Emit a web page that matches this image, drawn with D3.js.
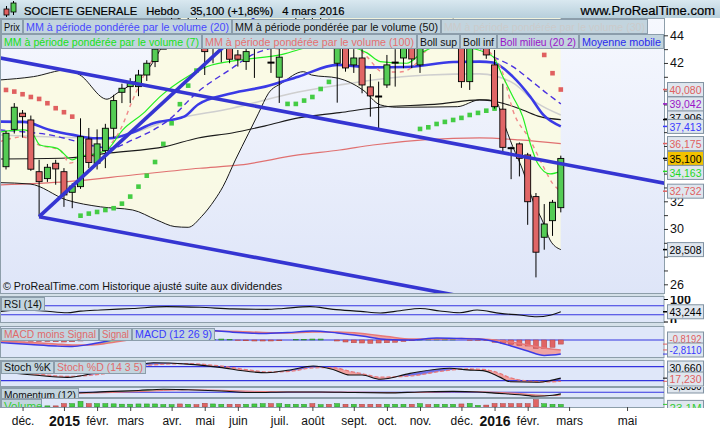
<!DOCTYPE html>
<html><head><meta charset="utf-8">
<script src="https://cdn.jsdelivr.net/npm/d3@7"></script>
<style>
body{margin:0;background:#fff}
svg{display:block;font-family:"Liberation Sans",Arial,sans-serif}
</style></head>
<body><svg id="c" width="720" height="430"></svg>
<script>
// ---------------- DATA (weekly, index 0 = week of 17 Nov 2014) ----------------
const opens  = [34.5,37.2,38.37,37.88,34.14,33.64,34.75,34.14,32.65,33.06,36.5,34.75,35.66,37.28,39.88,40.29,40.29,41.13,42.1,43.0,44.3,45.0,44.2,44.9,43.8,43.3,43.5,43.4,42.58,42.1,43.2,43.5,42.05,40.97,43.1,44.3,44.8,45.0,44.5,44.9,41.98,43.6,41.86,42.36,40.27,39.6,40.41,42.0,42.36,43.3,41.86,43.6,44.0,43.9,43.9,43.5,40.65,43.2,43.4,41.86,38.66,35.86,36.15,35.35,32.34,29.4,30.6,31.54];
const highs  = [37.1,39.1,38.6,38.2,35.0,34.7,35.0,34.4,33.3,38.0,37.3,37.2,37.6,39.7,40.5,40.9,41.5,42.2,43.2,44.6,45.6,45.8,45.5,45.9,45.0,44.5,44.6,44.0,42.94,43.4,44.3,44.8,43.3,43.3,44.8,45.4,45.8,45.6,45.5,45.2,43.8,44.2,43.0,43.2,41.2,40.65,42.58,43.0,43.8,43.8,43.9,44.5,45.0,45.0,45.2,44.2,43.8,44.0,43.9,42.94,40.5,35.95,36.25,35.5,32.6,31.8,32.1,35.3];
const lows   = [34.3,36.9,36.6,34.2,30.89,33.4,33.2,31.6,31.5,32.9,34.4,34.3,34.4,36.6,39.1,39.1,39.6,40.7,41.7,43.1,43.8,43.6,43.5,43.8,41.13,41.98,42.05,41.98,41.74,41.5,40.92,43.0,41.28,39.11,43.1,43.8,44.0,43.9,43.7,43.3,39.13,41.37,41.28,39.81,38.12,37.16,40.2,40.29,41.62,41.62,41.28,43.1,43.3,43.3,43.4,40.2,40.05,43.0,42.3,38.7,35.6,33.6,33.8,30.3,26.5,28.5,29.5,31.2];
const closes = [36.92,38.8,38.12,34.32,33.42,34.46,34.34,32.46,33.1,36.67,34.8,36.15,37.28,39.28,40.17,40.63,41.13,41.98,43.0,44.2,45.0,44.3,44.9,44.0,42.82,43.9,43.9,42.27,42.27,42.82,43.6,44.1,42.0,42.42,44.3,44.8,45.1,44.5,44.9,43.6,43.3,41.64,42.36,40.41,39.62,39.55,41.86,42.05,43.3,42.29,43.2,43.2,44.5,44.4,44.3,40.65,43.2,43.5,42.58,38.84,35.9,35.82,35.11,31.97,28.32,30.36,31.93,35.1];
const volumes = [30,32,30,35,40,10,10,30,30,50,30,30,30,28,25,25,27,27,27,22,21,27,24,21,33,27,24,24,24,24,27,30,30,30,24,24,24,30,21,24,30,24,24,24,24,24,24,24,24,24,30,22,24,24,24,27,32,15,17,31,30,30,30,30,65,29,24,23.1];
const macdHist = [-0.15,-0.2,-0.2,-0.25,-0.3,-0.3,-0.35,-0.4,-0.35,-0.2,0.05,0.2,0.3,0.35,0.4,0.4,0.4,0.35,0.3,0.25,0.2,0.15,0.1,0.05,0.05,0.15,0.2,0.15,-0.1,-0.15,-0.2,-0.2,-0.2,-0.15,0.0,0.1,0.15,0.2,0.2,0.0,-0.2,-0.4,-0.55,-0.6,-0.65,-0.6,-0.55,-0.45,-0.3,-0.15,0.05,0.15,0.2,0.15,0.05,0.0,-0.05,-0.05,-0.1,-0.45,-0.65,-0.85,-1.05,-1.2,-1.65,-1.65,-1.45,-0.8192];

// indicator lines: [week index, value]
const mm20 = [[-0.8,37.76],[2.1,37.74],[5.3,37.16],[8.1,36.8],[10.5,36.56],[12.6,36.56],[15,36.92],[17.8,37.64],[21.5,38.12],[23.2,39.0],[27.3,39.81],[31.3,40.29],[35.3,41.01],[40,41.86],[44.3,41.68],[48.4,41.71],[54,42.07],[57.2,42.1],[58.8,42.03],[61.2,41.01],[63.3,39.57],[64.9,38.24],[67,37.413]];
const mm50 = [[-0.8,35.06],[7.4,35.13],[12.6,35.5],[19.2,35.95],[23.2,36.58],[27.3,36.94],[31.3,37.45],[35.3,38.03],[40.3,38.41],[44.3,38.75],[52.4,39.04],[57.2,39.33],[60,39.09],[62.4,38.6],[64.5,38.12],[67,37.906]];
const mm30 = [[-0.8,36.8],[11.4,36.58],[15.3,36.94],[19.2,37.76],[27.3,38.73],[35.3,39.9],[40.3,40.41],[44.3,40.77],[51,41.13],[57.2,41.21],[61.2,40.56],[64.1,39.11],[67,38.24]];
const mm7 = [[-0.8,37.0],[2.1,37.16],[3.3,36.8],[4.1,36.07],[6.2,35.83],[8,34.99],[8.9,35.23],[11,35.47],[12.2,35.71],[14.1,37.16],[16.6,38.37],[18.6,39.57],[21.9,41.01],[24.3,41.74],[28.3,42.22],[33.1,42.58],[36.3,43.1],[40,43.3],[43.6,42.73],[45.2,42.1],[48.4,41.98],[50.4,42.82],[53,43.3],[56,43.1],[58.8,42.46],[60,41.01],[61.2,39.57],[62.4,38.12],[63.3,36.2],[64.2,34.75],[65.7,33.98],[67,34.163]];
const mm100 = [[-0.8,33.18],[7.4,33.42],[15.3,33.9],[23.4,34.39],[28.3,34.63],[35.3,35.35],[40.3,35.71],[44.3,36.07],[57.2,36.58],[62,36.44],[67,36.175]];
const bollUp = [[-0.8,40.77],[3.3,41.01],[7.4,41.5],[8.9,41.14],[12.2,39.38],[13.4,39.81],[15.3,40.54],[17.4,41.74],[18.6,42.94],[20,44.5],[22,46],[26,47],[32,46.8],[38,46.5],[42,46.5],[46,46.5],[52,45.8],[56,46],[60,47.5],[64,50],[67,49.6]];
const bollLow = [[-0.8,33.35],[2.9,33.25],[7.3,32.1],[11.4,31.6],[15.3,31.37],[18.2,30.65],[20.4,30.17],[22,30.12],[23.6,30.89],[25.2,32.1],[26.2,33.06],[27.7,34.99],[29.3,36.92],[30.5,38.37],[31.7,39.81],[33.3,40.54],[35.9,41.37],[36.9,41.13],[40.1,40.9],[43.1,40.05],[45.2,38.97],[47.2,38.8],[54.5,38.84],[57.2,39.33],[58.1,39.33],[59.3,39.11],[60,37.88],[61.2,35.95],[62.4,34.27],[63.6,32.1],[64.9,30.43],[65.7,29.2],[67,28.508]];
const bollMid = [[-0.8,37.16],[1.7,37.04],[5.3,36.8],[9.3,36.2],[11,35.95],[12.6,35.83],[15.3,36.44],[17.8,37.16],[19.4,37.76],[23.2,39.93],[27.3,41.62],[29.7,42.58],[31.3,42.94],[35,43.4],[40,43.6],[46,43.5],[52,43.4],[57,43.1],[58.8,42.46],[61.2,41.74],[63.3,40.77],[65.3,39.81],[67,39.042]];
const pinkMA = [[-0.8,36.3],[2,36.65],[4,36.07],[6.5,35.71],[7.7,34.77],[8.9,34.99],[11.4,35.5],[13.8,37.16],[15.3,39.33],[17,41.5],[18.2,42.73],[20,43.5],[26,43.6],[30,43.2],[34,43.0],[38,43.2],[42,43.3],[43.6,42.44],[45.5,41.35],[47.6,41.35],[49.6,42.0],[50.8,42.94],[53,43.6],[57,43.4],[58.1,42.94],[60,41.26],[61.2,38.6],[63.3,36.44],[64.9,34.5],[66,33.3],[67,32.732]];
const sarIdx = [0,1,2,3,4,5,6,7,8,9,10,11,12,13,14,15,16,17,18,19,20,21,22,23,34,35,36,37,38,39,50,51,52,53,54,55,56,57,58,59,65,66,67];
const sarVal = [40.05,39.93,39.74,39.54,39.4,39.09,38.73,38.44,38.12,30.96,31.11,31.23,31.37,31.5,31.83,32.34,33.06,33.85,34.84,36.15,37.64,39.02,40.36,41.45,39.04,39.04,39.28,39.54,40.12,40.63,37.23,37.35,37.59,37.74,37.88,38.03,38.24,38.39,38.55,38.7,42.58,41.26,40.08];
// drawn trend lines: [index, price] pairs
const trendRise = [[4,30.89],[30,45.22]];
const trendTop  = [[-0.8,42.37],[80,33.25]];
const trendLow  = [[4,30.89],[60,24.57]];

const rsiIdx = [-0.8,2,4.5,7.4,9,11.4,15.3,19.4,23.4,27.4,31.5,33.5,36.7,39.5,42.8,45.2,47.6,50,52.4,54.8,56.9,59.7,62,64.1,65.7,67];
const rsiVal = [44,51,47,39,46,51,58,66,63,56,54,58,66,54,45,38,48,58,47,39,51,36,29,21,28,43.244];
const macdIdx = [-0.8,3,6,8,10,12,14,16,19,22,25,28,31,34,37,40,43,46,49,52,55,57,59,61,63,65,67];
const macdVal = [-0.5,-0.9,-1.2,-1.3,-0.9,-0.3,0.4,1.0,1.7,2.1,1.9,1.5,1.3,1.5,1.8,1.4,0.8,0.1,0.0,0.4,0.3,0.2,-0.3,-1.2,-2.2,-3.1,-2.811];
const macdSig = [-0.2,-0.5,-0.8,-1.0,-1.0,-0.7,-0.2,0.4,1.1,1.6,1.8,1.7,1.5,1.4,1.6,1.6,1.3,0.7,0.2,0.2,0.3,0.25,0.0,-0.4,-1.0,-1.6,-1.99];
const stIdx = [-0.8,3.3,7.4,11.4,15.3,17.8,21.9,25.8,29.5,31.5,34.3,37.1,39.5,41.5,43,45.2,48.8,53.6,55.7,57.6,59.7,60.9,64.1,65.7,67];
const stK = [58,44,34,58,83,97,91,77,58,54,66,83,68,44,44,26,51,73,66,63,34,15,13,20,30.66];
const stD = [60,50,38,48,72,88,93,83,65,57,60,75,76,60,50,35,40,65,70,68,50,32,16,15,17.23];
const momIdx = [-0.8,4,8,12,16,19,22,26,30,34,38,42,46,50,54,57,59,62,64,66,67];
const momVal = [-1,-4,-3,2,6,10,8,4,-1,1,1,-1,-2,1,3,1,-3,-8,-13,-10,-5.303];
const momSig = [0,-2,-3.5,-1.5,2,6,8,6.5,3,1,0.5,0.5,-1,-0.5,1.5,1.5,0,-4,-9,-11,-9];

const monthIdx = [2,7,11,15,20,24,28,33,37,42,46,50,55,59,63,68,75];
const monthLabels = ["déc.","2015","févr.","mars","avr.","mai","juin","juil.","août","sept.","oct.","nov.","déc.","2016","févr.","mars","mai"];
const priceTicks = d3.range(26,45,1);

// last-value labels on the price axis
const lastVals  = [40.080, 39.042, 37.413, 36.175, 35.100, 34.163, 32.732, 28.508];
const lastColor = ["#e06060","#9a12c8","#3a3aff","#e06060","#000","#1fd81f","#e06060","#000"];
const hiddenVal = 37.906;

// ---------------- LAYOUT ----------------
const svg = d3.select("#c");
const PL=0, PR=664, PT=18, PB=293;
const x = d3.scaleLinear().domain([0,67]).range([6,560.8]);
const y = d3.scaleLinear().domain([26,44]).range([284.3,35.3]);
const fmt = (v,d)=>d3.format("."+d+"f")(v).replace(".",",").replace("−","-");

const defs = svg.append("defs");
const g1 = defs.append("linearGradient").attr("id","bg").attr("x1",0).attr("y1",0).attr("x2",0).attr("y2",1);
g1.append("stop").attr("offset","0%").attr("stop-color","#f6f8fe");
g1.append("stop").attr("offset","100%").attr("stop-color","#dee5f8");
const g2 = defs.append("linearGradient").attr("id","tb").attr("x1",0).attr("y1",0).attr("x2",0).attr("y2",1);
g2.append("stop").attr("offset","0%").attr("stop-color","#d9e8f0");
g2.append("stop").attr("offset","100%").attr("stop-color","#b7cfdb");
defs.append("clipPath").attr("id","mainClip").append("rect").attr("x",PL+1).attr("y",PT).attr("width",PR-PL-1).attr("height",PB-PT);

// page background
svg.append("rect").attr("width",720).attr("height",430).attr("fill","#d4e0e8");
svg.append("rect").attr("x",0).attr("y",0).attr("width",720).attr("height",18).attr("fill","url(#tb)");
svg.append("rect").attr("x",664).attr("y",18).attr("width",56).attr("height",390).attr("fill","#fff");
svg.append("rect").attr("x",0).attr("y",407).attr("width",720).attr("height",23).attr("fill","#fff");
svg.append("rect").attr("x",PL+0.5).attr("y",PT+0.5).attr("width",PR-PL).attr("height",PB-PT).attr("fill","url(#bg)").attr("stroke","#8d9eaa");

// title
const icon = svg.append("g");
icon.append("line").attr("x1",6.5).attr("x2",6.5).attr("y1",6).attr("y2",17).attr("stroke","#000");
icon.append("rect").attr("x",4).attr("y",9).attr("width",5).attr("height",6).attr("fill","#e06060").attr("stroke","#000").attr("stroke-width",0.8);
icon.append("line").attr("x1",13.5).attr("x2",13.5).attr("y1",1).attr("y2",15).attr("stroke","#000");
icon.append("rect").attr("x",11).attr("y",3).attr("width",5).attr("height",9).attr("fill","#55cc55").attr("stroke","#000").attr("stroke-width",0.8);
const title = svg.append("text").attr("x",24).attr("y",15).attr("font-size",11.2).attr("fill","#000")
  .attr("stroke","#000").attr("stroke-width",0.2);
title.append("tspan").text("SOCIETE GENERALE");
title.append("tspan").attr("dx",9).text("Hebdo");
title.append("tspan").attr("dx",11).text("35,100 (+1,86%)");
title.append("tspan").attr("dx",9).text("4 mars 2016");
svg.append("text").attr("x",715).attr("y",15).attr("text-anchor","end").attr("font-size",13).attr("fill","#000")
  .attr("stroke","#000").attr("stroke-width",0.2).text("www.ProRealTime.com");

// ---------------- MAIN PLOT ----------------
const main = svg.append("g").attr("clip-path","url(#mainClip)");
const ln = (sy)=>d3.line().x(d=>x(d[0])).y(d=>sy(d[1])).curve(d3.curveMonotoneX);

// Bollinger fill: below upper band AND above lower band
defs.append("clipPath").attr("id","bbUp").append("path")
  .attr("d", d3.area().x(d=>x(d[0])).y0(d=>y(d[1])).y1(PB).curve(d3.curveMonotoneX)(bollUp));
main.append("g").attr("clip-path","url(#bbUp)").append("path")
  .attr("d", d3.area().x(d=>x(d[0])).y0(PT).y1(d=>y(d[1])).curve(d3.curveMonotoneX)(bollLow))
  .attr("fill","#fbfbe2").attr("opacity",0.9);

const drawLine=(data,color,w,dash)=>main.append("path").attr("d",ln(y)(data)).attr("fill","none")
  .attr("stroke",color).attr("stroke-width",w).attr("stroke-dasharray",dash||null);
drawLine(mm100,"#e07070",1.2);
drawLine(mm30,"#cfcfcf",1.6);
drawLine(mm50,"#1a1a1a",1.1);
drawLine(bollUp,"#1a1a1a",1);
drawLine(bollLow,"#1a1a1a",1);
drawLine(bollMid,"#4a30e0",1.4,"6,4");
drawLine(mm20,"#3a3ae6",2.6);
drawLine(pinkMA,"#f08a8a",1.4,"4,4");
drawLine(mm7,"#22ee22",1.2);

// SAR squares
main.selectAll("rect.sar").data(sarIdx).enter().append("rect")
  .attr("x",(d)=>x(d)-2.3).attr("y",(d,i)=>y(sarVal[i])-2.3).attr("width",4.6).attr("height",4.6)
  .attr("fill",(d,i)=> sarVal[i] > closes[d] ? "#e06060" : "#44cc44");

// candles
const cg = main.append("g");
opens.forEach((o,i)=>{
  const c=closes[i], cx=x(i);
  cg.append("line").attr("x1",cx).attr("x2",cx).attr("y1",y(highs[i])).attr("y2",y(lows[i])).attr("stroke","#000").attr("stroke-width",1);
  const top=y(Math.max(o,c)), bot=y(Math.min(o,c));
  if (bot-top < 1.5) {
    cg.append("rect").attr("x",cx-3.5).attr("y",(top+bot)/2-1).attr("width",7).attr("height",2).attr("fill","#000");
  } else {
    cg.append("rect").attr("x",cx-3).attr("y",top).attr("width",6).attr("height",bot-top)
      .attr("fill", c>=o ? "#55cc55" : "#e06666").attr("stroke","#000").attr("stroke-width",0.9);
  }
});

// trend lines
const tl = d3.line().x(d=>x(d[0])).y(d=>y(d[1]));
[trendRise,trendTop,trendLow].forEach(t=>main.append("path").attr("d",tl(t)).attr("stroke","#3535d2").attr("stroke-width",3.6).attr("fill","none"));

svg.append("text").attr("x",3).attr("y",290).attr("font-size",11.5).attr("fill","#111")
  .attr("textLength",279).attr("lengthAdjust","spacingAndGlyphs").text("© ProRealTime.com Historique ajusté suite aux dividendes");

// legend boxes
function legendBox(x0,y0,w,h,text,color,fs){
  svg.append("rect").attr("x",x0+0.5).attr("y",y0+0.5).attr("width",w-1).attr("height",h-1).attr("fill","#c2d4de").attr("stroke","#8b9dab");
  svg.append("text").attr("x",x0+3).attr("y",y0+h-3.3).attr("fill",color).attr("font-size",fs)
    .attr("textLength",w-6).attr("lengthAdjust","spacingAndGlyphs").text(text);
}
legendBox(1,19,22,15,"Prix","#111",11.5);
legendBox(23,19,209,15,"MM à période pondérée par le volume (20)","#4848ff",11.5);
legendBox(232,19,209,15,"MM à période pondérée par le volume (50)","#111",11.5);
legendBox(441,19,207,15,"MM à période pondérée par le volume (30)","#cbcbcb",11.5);
legendBox(1,34,201,15,"MM à période pondérée par le volume (7)","#18e018",11.5);
legendBox(202,34,215,15,"MM à période pondérée par le volume (100)","#e67070",11.5);
legendBox(417,34,43,15,"Boll sup","#111",11.5);
legendBox(460,34,37,15,"Boll inf","#111",11.5);
legendBox(497,34,82,15,"Boll milieu (20 2)","#9a12c8",11.5);
legendBox(579,34,85,15,"Moyenne mobile","#2a2aee",11.5);

// value-box placement
function place(vals, gap, hi){
  const ys = vals.slice();
  for(let i=1;i<ys.length;i++) ys[i]=Math.max(ys[i],ys[i-1]+gap);
  if (ys[ys.length-1]>hi){ ys[ys.length-1]=hi; for(let i=ys.length-2;i>=0;i--) ys[i]=Math.min(ys[i],ys[i+1]-gap); }
  return ys;
}
const py = place(lastVals.map(v=>y(v)), 14, 286);

// price axis (labels that would sit under a value box are left out, as in the reference)
const ax = svg.append("g").attr("transform","translate(664,0)")
  .call(d3.axisRight(y).tickValues(priceTicks).tickSize(4).tickPadding(2)
    .tickFormat(d=>{ if(d%2!==0) return ""; const yy=y(d); return py.some(p=>Math.abs(p-yy)<7.2) ? "" : d; }));
ax.select(".domain").remove();
ax.selectAll("text").attr("font-size",12.5).attr("fill","#111").attr("font-family","Liberation Sans, Arial");
ax.selectAll("line").attr("stroke","#333");

function valueBox(cy, txt, color, bg, tickY, tickColor){
  if (tickY!=null) svg.append("line").attr("x1",663).attr("x2",669).attr("y1",tickY).attr("y2",tickY).attr("stroke",tickColor).attr("stroke-width",1.5);
  svg.append("rect").attr("x",667.5).attr("y",cy-7).attr("width",36).attr("height",14).attr("fill",bg||"#dfe6ee").attr("stroke","#8293a3");
  svg.append("text").attr("x",669.5).attr("y",cy+4.3).attr("font-size",11.5).attr("fill",color)
    .attr("textLength",32).attr("lengthAdjust","spacingAndGlyphs").text(txt);
}
valueBox(y(hiddenVal)-2, fmt(hiddenVal,3), "#000", null, y(hiddenVal), "#000");
lastVals.forEach((v,i)=>valueBox(py[i], fmt(v,3), lastColor[i], i===4?"#f3c200":null, y(v), lastColor[i]));

// ---------------- SUB PANELS ----------------
function panel(id, top, h){
  svg.append("rect").attr("x",0.5).attr("y",top+0.5).attr("width",663.5).attr("height",h).attr("fill","#dfe7f9").attr("stroke","#8d9eaa");
  defs.append("clipPath").attr("id",id).append("rect").attr("x",1).attr("y",top+1).attr("width",663).attr("height",h-1);
  defs.append("clipPath").attr("id",id+"R").append("rect").attr("x",664).attr("y",top).attr("width",56).attr("height",h+1);
  return svg.append("g").attr("clip-path","url(#"+id+")");
}
function hline(g,yy,color){ g.append("line").attr("x1",0).attr("x2",664).attr("y1",yy).attr("y2",yy).attr("stroke",color).attr("stroke-width",1.2); }
function pairs(idx,vals){ return idx.map((d,i)=>[d,vals[i]]); }
function twoColorFill(g, id, idx, a, b, sy, top, bot, upColor, downColor){
  const A=pairs(idx,a), B=pairs(idx,b);
  const between = d3.area().x(d=>x(d[0])).y0((d,i)=>sy(A[i][1])).y1((d,i)=>sy(B[i][1])).curve(d3.curveMonotoneX)(A);
  defs.append("clipPath").attr("id",id+"U").append("path").attr("d", d3.area().x(d=>x(d[0])).y0(top).y1(d=>sy(d[1])).curve(d3.curveMonotoneX)(B));
  defs.append("clipPath").attr("id",id+"D").append("path").attr("d", d3.area().x(d=>x(d[0])).y0(d=>sy(d[1])).y1(bot).curve(d3.curveMonotoneX)(B));
  g.append("g").attr("clip-path","url(#"+id+"U)").append("path").attr("d",between).attr("fill",upColor);
  g.append("g").attr("clip-path","url(#"+id+"D)").append("path").attr("d",between).attr("fill",downColor);
}
function subLegend(items, y0, h){
  let xx=1; items.forEach(it=>{ legendBox(xx,y0,it[2],h,it[0],it[1],11.5); xx+=it[2]; });
}

// RSI
const rsiY = d3.scaleLinear().domain([0,100]).range([321.5,299]);
const rsiG = panel("pRsi",296,26);
hline(rsiG, rsiY(70), "#3434e0"); hline(rsiG, rsiY(30), "#3434e0");
rsiG.append("path").attr("d",ln(rsiY)(pairs(rsiIdx,rsiVal))).attr("fill","none").attr("stroke","#111").attr("stroke-width",1.1);
subLegend([["RSI (14)","#111",44]],297,14);
const rax = svg.append("g").attr("clip-path","url(#pRsiR)").append("g").attr("transform","translate(664,0)")
  .call(d3.axisRight(rsiY).tickValues([0,100]).tickSize(4).tickPadding(2));
rax.select(".domain").remove(); rax.selectAll("text").attr("font-size",12.5).attr("fill","#111").attr("font-weight","bold");
valueBox(rsiY(43.244), fmt(43.244,3), "#000", null, rsiY(43.244), "#000");

// MACD
const mY = d3.scaleLinear().domain([-3,3]).range([355,325]);
const mG = panel("pMacd",326,31);
twoColorFill(mG,"mf",macdIdx,macdVal,macdSig,mY,326,357,"#9ad49a","#f0a4a4");
hline(mG, mY(0), "#3434e0");
mG.selectAll("rect.h").data(macdHist).enter().append("rect")
  .attr("x",(d,i)=>x(i)-2.5).attr("width",5).attr("y",d=>Math.min(mY(d),mY(0))).attr("height",d=>Math.abs(mY(d)-mY(0)))
  .attr("fill",d=>d>=0?"#44bb44":"#e06464").attr("stroke",d=>d>=0?"#2a8a2a":"#b04040").attr("stroke-width",0.5);
mG.append("path").attr("d",ln(mY)(pairs(macdIdx,macdSig))).attr("fill","none").attr("stroke","#e87878").attr("stroke-width",1.6);
mG.append("path").attr("d",ln(mY)(pairs(macdIdx,macdVal))).attr("fill","none").attr("stroke","#3a3ae6").attr("stroke-width",1.4);
subLegend([["MACD moins Signal","#e06a6a",98],["Signal","#e06a6a",33],["MACD (12 26 9)","#3a3aff",83]],328,13);
const mBoxes = place([mY(macdHist[67]), mY(-2.811)], 11, 350);
svg.append("line").attr("x1",663).attr("x2",669).attr("y1",mY(macdHist[67])).attr("y2",mY(macdHist[67])).attr("stroke","#e06060");
svg.append("line").attr("x1",663).attr("x2",669).attr("y1",mY(-1.99)).attr("y2",mY(-1.99)).attr("stroke","#e06060");
svg.append("line").attr("x1",663).attr("x2",669).attr("y1",mY(-2.811)).attr("y2",mY(-2.811)).attr("stroke","#3a3ae6");
valueBox(mBoxes[0], "-0,8192", "#e06060", null, null);
valueBox(mBoxes[1], "-2,8110", "#3a3aff", null, null);

// Stochastic
const sY = d3.scaleLinear().domain([0,100]).range([385.3,362]);
const sG = panel("pSto",360,26);
twoColorFill(sG,"sf",stIdx,stK,stD,sY,360,386,"#6f6fe8","#f0a0a0");
hline(sG, sY(80), "#3434e0"); hline(sG, sY(20), "#3434e0");
sG.append("path").attr("d",ln(sY)(pairs(stIdx,stD))).attr("fill","none").attr("stroke","#e87878").attr("stroke-width",1.3).attr("stroke-dasharray","4,2");
sG.append("path").attr("d",ln(sY)(pairs(stIdx,stK))).attr("fill","none").attr("stroke","#111").attr("stroke-width",1.1);
subLegend([["Stoch %K","#111",53],["Stoch %D (14 3 5)","#e06a6a",92]],361,13);
const sBoxes = place([sY(30.66), sY(17.23)], 11, 379);
svg.append("line").attr("x1",663).attr("x2",669).attr("y1",sY(30.66)).attr("y2",sY(30.66)).attr("stroke","#000");
svg.append("line").attr("x1",663).attr("x2",669).attr("y1",sY(17.23)).attr("y2",sY(17.23)).attr("stroke","#e06060");
valueBox(sBoxes[0], "30,660", "#000", null, null);
valueBox(sBoxes[1], "17,230", "#e06060", null, null);

// Momentum
const moY = d3.scaleLinear().domain([-14,14]).range([396.5,388]);
const moG = panel("pMom",387,10);
twoColorFill(moG,"mo",momIdx,momVal,momSig,moY,387,397,"#8fd48f","#f0a4a4");
hline(moG, moY(0), "#3434e0");
moG.append("path").attr("d",ln(moY)(pairs(momIdx,momSig))).attr("fill","none").attr("stroke","#e87878").attr("stroke-width",1);
moG.append("path").attr("d",ln(moY)(pairs(momIdx,momVal))).attr("fill","none").attr("stroke","#111").attr("stroke-width",1.1);
svg.append("g").attr("clip-path","url(#pMomR)").call(g=>{
  g.append("rect").attr("x",667.5).attr("y",379).attr("width",36).attr("height",14).attr("fill","#dfe6ee").attr("stroke","#8293a3");
  g.append("text").attr("x",669.5).attr("y",390.3).attr("font-size",11.5).attr("textLength",32).attr("lengthAdjust","spacingAndGlyphs").text(fmt(momVal[momVal.length-1],4));
});
svg.append("g").attr("clip-path","url(#pMom)").call(g=>subLegend([["Momentum (12)","#111",78]],388,14));

// Volume
const vY = d3.scaleLinear().domain([0,80]).range([407,398]);
const vG = panel("pVol",398,9);
vG.selectAll("rect.v").data(volumes).enter().append("rect")
  .attr("x",(d,i)=>x(i)-2.5).attr("width",5).attr("y",d=>vY(d)).attr("height",d=>vY(0)-vY(d))
  .attr("fill",(d,i)=>closes[i]>=opens[i]?"#44cc44":"#e06464").attr("stroke",(d,i)=>closes[i]>=opens[i]?"#2a8a2a":"#a04040").attr("stroke-width",0.5);
svg.append("g").attr("clip-path","url(#pVol)").call(g=>{
  g.append("rect").attr("x",1.5).attr("y",399.5).attr("width",40).attr("height",14).attr("fill","#c2d4de").attr("stroke","#8b9dab");
  g.append("text").attr("x",4).attr("y",410).attr("font-size",11.5).attr("fill","#33cc33").text("Volume");
});
svg.append("line").attr("x1",663).attr("x2",669).attr("y1",vY(23.1)).attr("y2",vY(23.1)).attr("stroke","#33cc33");
svg.append("g").attr("clip-path","url(#pVolR)").call(g=>{
  g.append("rect").attr("x",667.5).attr("y",vY(23.1)-4).attr("width",36).attr("height",14).attr("fill","#dfe6ee").attr("stroke","#8293a3");
  g.append("text").attr("x",669.5).attr("y",vY(23.1)+7.5).attr("font-size",11.5).attr("fill","#33cc33").text("23,1M");
});

// time axis
const tax = svg.append("g").attr("transform","translate(0,407)")
  .call(d3.axisBottom(x).tickValues(monthIdx).tickSize(4).tickPadding(5).tickFormat((d,i)=>monthLabels[i]));
tax.select(".domain").remove();
tax.selectAll("line").attr("stroke","#444");
tax.selectAll("text").attr("font-size",12).attr("fill","#111")
  .each(function(d,i){ if(/^\d{4}$/.test(monthLabels[i])) d3.select(this).attr("font-weight","bold").attr("font-size",14); });
</script>
</body></html>
